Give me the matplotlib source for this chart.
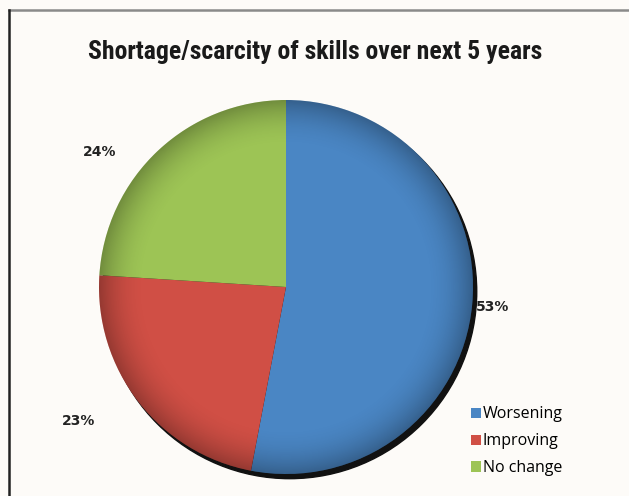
import numpy as np
import matplotlib.pyplot as plt
from matplotlib.patches import Patch, Circle
from matplotlib.lines import Line2D
from matplotlib import font_manager

title = "Shortage/scarcity of skills over next 5 years"
categories = ["Worsening", "Improving", "No change"]
shares = [53, 23, 24]
colors = ["#4a86c4", "#d04f45", "#9dc455"]

W, H = 629, 496
fig = plt.figure(figsize=(W / 100, H / 100), dpi=100)
fig.patch.set_facecolor("#fdfbf8")

# frame lines (top and left)
fig.add_artist(Line2D([9 / W, 1], [1 - 10 / H, 1 - 10 / H], color="#8a8a8a", lw=1.8))
fig.add_artist(Line2D([9 / W, 9 / W], [0, 1 - 10 / H], color="#222222", lw=1.8))

# narrow bold face for the heading if one is available
names = {f.name for f in font_manager.fontManager.ttflist}
narrow = [n for n in ["Liberation Sans Narrow", "Roboto Condensed", "Open Sans Condensed"] if n in names]
fig.text(315 / W, 1 - 52 / H, title, ha="center", va="center", fontsize=18.5,
         fontweight="bold", fontstretch="condensed",
         family=narrow + ["DejaVu Sans"], color="#1a1a1a")

# pie axes: center (286, 287) px, radius 187 px
cx, cy, r = 286, 287, 187
ax = fig.add_axes([(cx - r) / W, (H - cy - r) / H, 2 * r / W, 2 * r / H])
ax.axis("off")

# drop shadow on the lower right rim
ax.add_patch(Circle((0.02, -0.025), 1.0, color="#111111", zorder=0, clip_on=False))

wedges, _ = ax.pie(shares, colors=colors, startangle=90, counterclock=False,
                   radius=1, wedgeprops=dict(linewidth=0))

# soft radial shading toward the rim
n = 400
yy, xx = np.mgrid[-1:1:n * 1j, -1:1:n * 1j]
rr = np.sqrt(xx ** 2 + yy ** 2)
shade = np.zeros((n, n, 4))
shade[..., 3] = np.clip((rr - 0.75) / 0.25, 0, 1) ** 2 * 0.28
im = ax.imshow(shade, extent=(-1, 1, -1, 1), origin="lower", zorder=3)
im.set_clip_path(Circle((0, 0), 1.0, transform=ax.transData))
ax.set_xlim(-1, 1)
ax.set_ylim(-1, 1)
ax.set_aspect("equal")

# percentage labels outside the wedges
label_dist = [1.11, 1.32, 1.23]
label_nudge = [0, -5, 11]
for w, s, d, a in zip(wedges, shares, label_dist, label_nudge):
    ang = np.deg2rad((w.theta1 + w.theta2) / 2 + a)
    ax.text(d * np.cos(ang), d * np.sin(ang), f"{s}%", ha="center", va="center",
            fontsize=10, fontweight="heavy", color="#222222", clip_on=False)

handles = [Patch(facecolor=c, edgecolor="none") for c in colors]
fig.legend(handles, categories, loc="upper left", bbox_to_anchor=(457 / W, 1 - 392 / H),
           frameon=False, handlelength=0.6, handleheight=0.6, handletextpad=0.1,
           labelspacing=0.68, prop={"family": "Open Sans", "size": 11.5})

fig.savefig("out.png", dpi=100, facecolor=fig.get_facecolor())
